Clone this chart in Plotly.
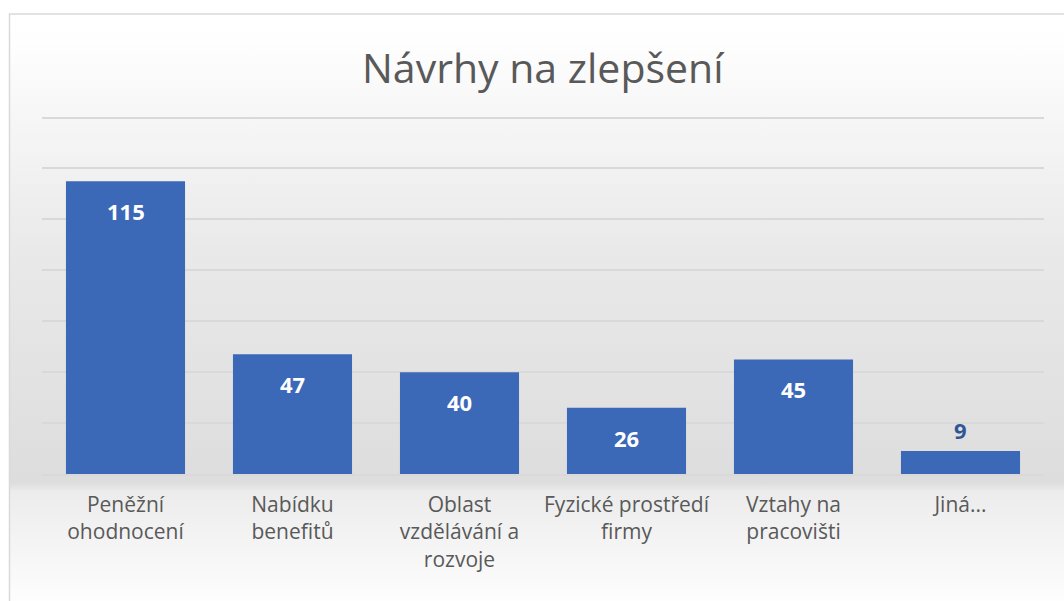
import base64
import plotly.graph_objects as go

categories = ["Peněžní<br>ohodnocení", "Nabídku<br>benefitů", "Oblast<br>vzdělávání a<br>rozvoje",
              "Fyzické prostředí<br>firmy", "Vztahy na<br>pracovišti", "Jiná..."]
values = [115, 47, 40, 26, 45, 9]
title_text = "Návrhy na zlepšení"

W, H = 1064, 601
Y_TOP = 141
ML, MR, MB = 42, 20, 127
MT = (H - MB) - Y_TOP * 356 / 140
plot_h = H - MT - MB

svg = f'''<svg xmlns="http://www.w3.org/2000/svg" width="{W}" height="{H}" preserveAspectRatio="none">
<defs><linearGradient id="g" x1="0" y1="0" x2="0" y2="1">
<stop offset="0.03" stop-color="#ffffff"/>
<stop offset="0.40" stop-color="#e9e9e9"/>
<stop offset="0.785" stop-color="#dddddd"/>
<stop offset="0.80" stop-color="#ececec"/>
<stop offset="1" stop-color="#ffffff"/>
</linearGradient></defs>
<rect x="0" y="0" width="{W}" height="{H}" fill="url(#g)"/></svg>'''
src = "data:image/svg+xml;base64," + base64.b64encode(svg.encode()).decode()

def px_to_paper_y(py):
    return (H - MB - py) / plot_h

def px_to_paper_x(px):
    return (px - ML) / (W - ML - MR)

fig = go.Figure()
fig.add_trace(go.Bar(
    x=categories, y=values,
    marker=dict(color="#3C68B8", line=dict(width=0)),
    hoverinfo="x+y",
))

annotations = []
for c, v in zip(categories, values):
    if v >= 20:
        annotations.append(dict(x=c, y=v, xref="x", yref="y", text=f"<b>{v}</b>", showarrow=False,
                                yshift=-30, font=dict(family="Open Sans", size=22, color="white")))
    else:
        annotations.append(dict(x=c, y=v, xref="x", yref="y", text=f"<b>{v}</b>", showarrow=False,
                                yshift=21, font=dict(family="Open Sans", size=22, color="#2F5597")))
annotations.append(dict(text=title_text, xref="paper", yref="paper", x=0.5, y=px_to_paper_y(68),
                        showarrow=False, xanchor="center", yanchor="middle",
                        font=dict(family="Open Sans", size=41, color="#595959")))

fig.update_layout(
    width=W, height=H,
    margin=dict(l=ML, r=MR, t=MT, b=MB, pad=0),
    paper_bgcolor="white", plot_bgcolor="rgba(0,0,0,0)",
    bargap=0.287, showlegend=False,
    annotations=annotations,
    images=[dict(source=src, xref="paper", yref="paper",
                 x=px_to_paper_x(10), y=px_to_paper_y(14),
                 sizex=px_to_paper_x(W + 10) - px_to_paper_x(10),
                 sizey=px_to_paper_y(14) - px_to_paper_y(H + 10),
                 sizing="stretch", xanchor="left", yanchor="top", layer="below")],
    shapes=[dict(type="rect", xref="paper", yref="paper",
                 x0=px_to_paper_x(9.5), x1=px_to_paper_x(W + 20),
                 y0=px_to_paper_y(H + 20), y1=px_to_paper_y(14.5),
                 line=dict(color="#d9d9d9", width=1.5), fillcolor="rgba(0,0,0,0)", layer="below")],
    xaxis=dict(showgrid=False, showline=True, linecolor="#d9d9d9", linewidth=1.5,
               tickfont=dict(family="Open Sans", size=21, color="#595959"), ticks="",
               ticklabelstandoff=11, fixedrange=True),
    yaxis=dict(range=[0, Y_TOP], tick0=0, dtick=20, showgrid=True, gridcolor="#d9d9d9", gridwidth=1.5,
               showticklabels=False, zeroline=False, fixedrange=True),
)

fig.write_html("out.html", config={"displayModeBar": False},
               post_script="document.body.style.margin='0';")
